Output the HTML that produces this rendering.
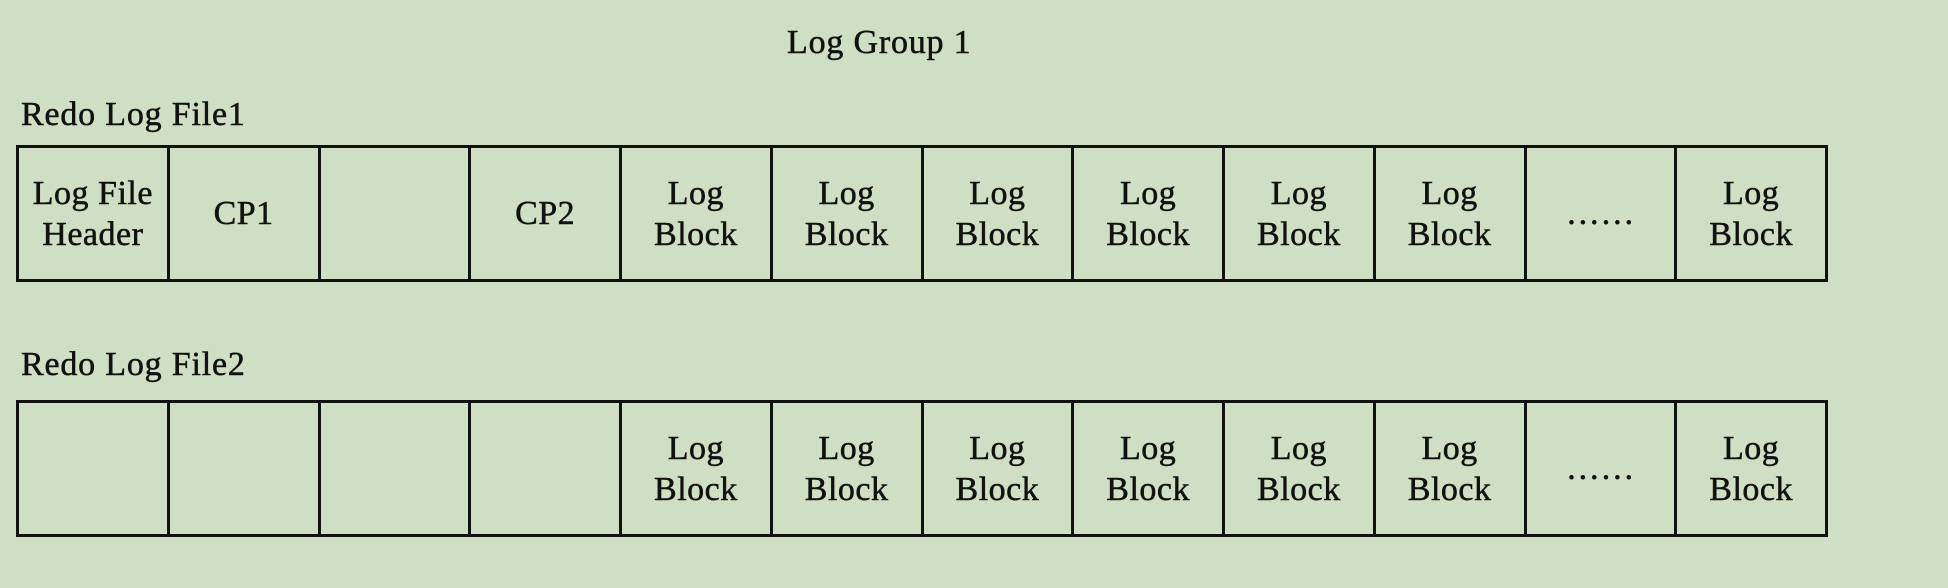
<!DOCTYPE html>
<html><head><meta charset="utf-8"><style>
body{margin:0;width:1948px;height:588px;background:#cfdfc3;position:relative;overflow:hidden;font-family:"Liberation Serif",serif;color:#111;}
.t{position:absolute;font-size:34px;letter-spacing:0.8px;white-space:nowrap;-webkit-text-stroke:0.5px #111;}
.row{position:absolute;left:16px;width:1812px;height:137px;border:3px solid #111;box-sizing:border-box;display:flex;}
.c{flex:1;border-right:3px solid #111;display:flex;align-items:center;justify-content:center;text-align:center;font-size:34px;line-height:41px;letter-spacing:0.5px;-webkit-text-stroke:0.5px #111;}
.c:last-child{border-right:none;}
</style></head><body>
<div class="t" style="left:787px;top:24px;">Log Group 1</div>
<div class="t" style="left:21px;top:96px;">Redo Log File1</div>
<div class="row" style="top:145px;">
<div class="c">Log File<br>Header</div><div class="c">CP1</div><div class="c"></div><div class="c">CP2</div>
<div class="c">Log<br>Block</div><div class="c">Log<br>Block</div><div class="c">Log<br>Block</div><div class="c">Log<br>Block</div><div class="c">Log<br>Block</div><div class="c">Log<br>Block</div><div class="c">……</div><div class="c">Log<br>Block</div>
</div>
<div class="t" style="left:21px;top:346px;">Redo Log File2</div>
<div class="row" style="top:400px;">
<div class="c"></div><div class="c"></div><div class="c"></div><div class="c"></div>
<div class="c">Log<br>Block</div><div class="c">Log<br>Block</div><div class="c">Log<br>Block</div><div class="c">Log<br>Block</div><div class="c">Log<br>Block</div><div class="c">Log<br>Block</div><div class="c">……</div><div class="c">Log<br>Block</div>
</div>
</body></html>
